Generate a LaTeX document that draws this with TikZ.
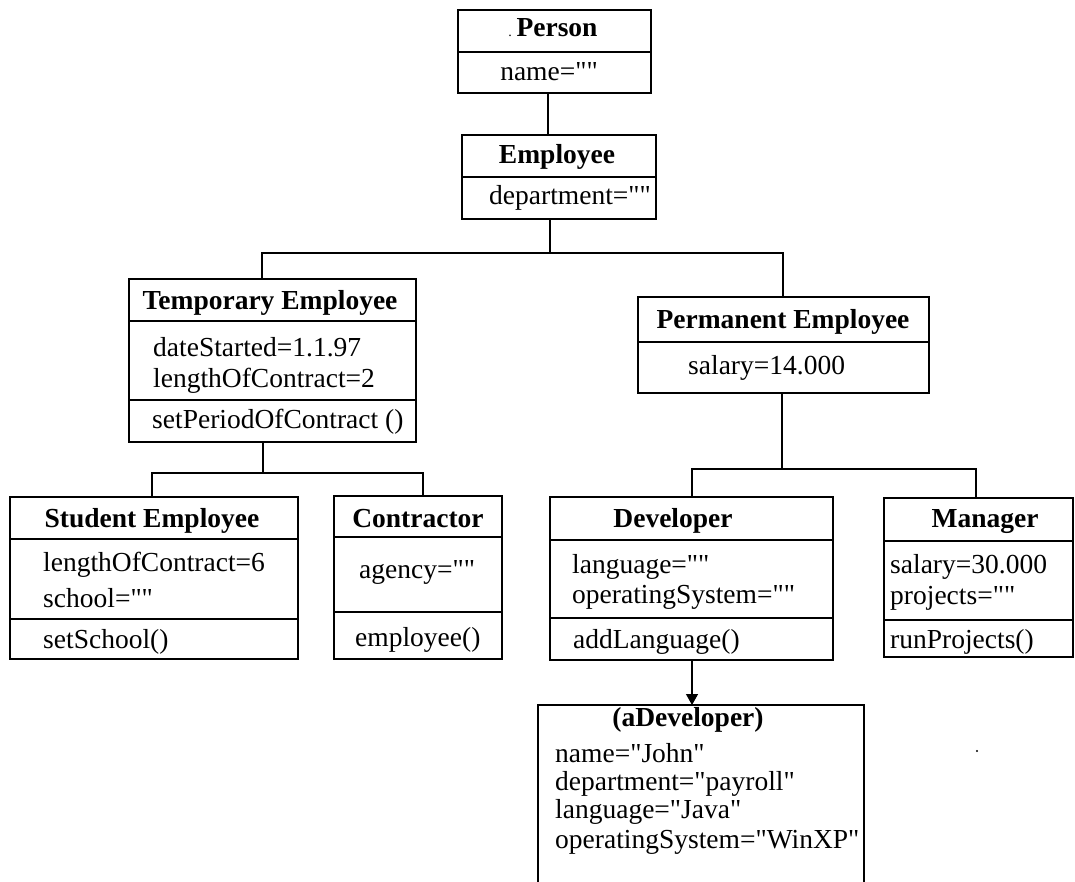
\documentclass[tikz,border=0pt]{standalone}
\usepackage{fontspec}
\setmainfont{Liberation Serif}[Ligatures=TeXOff]
\usetikzlibrary{arrows.meta}
\begin{document}
\begin{tikzpicture}[x=1pt,y=-1pt,
  box/.style={draw, line width=1.2pt, rectangle, inner sep=0pt, outer sep=0pt},
  ttl/.style={anchor=base, font=\fontsize{27.5}{30}\selectfont\bfseries, inner sep=0pt},
  txt/.style={anchor=base west, font=\fontsize{27.5}{30}\selectfont, inner sep=0pt},
  ctxt/.style={anchor=base, font=\fontsize{27.5}{30}\selectfont, inner sep=0pt},
  conn/.style={line width=1.2pt},
  divl/.style={line width=1.2pt},
  thickdiv/.style={line width=2.2pt}]
\useasboundingbox (0,0) rectangle (1075,881);
% boxes
\node[box, minimum width=193pt, minimum height=83pt] (person) at (554.5,51.5) {};
\node[box, minimum width=194pt, minimum height=84pt] (employee) at (559,177) {};
\node[box, minimum width=287pt, minimum height=163pt] (temp) at (272.5,360.5) {};
\node[box, minimum width=291pt, minimum height=96pt] (perm) at (783.5,345) {};
\node[box, minimum width=288pt, minimum height=162pt] (student) at (154,578) {};
\node[box, minimum width=168pt, minimum height=163pt] (contr) at (418,577.5) {};
\node[box, minimum width=283pt, minimum height=163pt] (dev) at (691.5,578.5) {};
\node[box, minimum width=189pt, minimum height=159pt] (mgr) at (978.5,577.5) {};
\node[box, minimum width=326pt, minimum height=190pt] (adev) at (701,800) {};
% dividers
\draw[thickdiv] (458,52) -- (651,52);
\draw[thickdiv] (462,177) -- (656,177);
\draw[divl] (129,321) -- (416,321);
\draw[divl] (129,400) -- (416,400);
\draw[divl] (638,342) -- (929,342);
\draw[divl] (10,539) -- (298,539);
\draw[divl] (10,619) -- (298,619);
\draw[divl] (334,537) -- (502,537);
\draw[divl] (334,612) -- (502,612);
\draw[divl] (550,540) -- (833,540);
\draw[divl] (550,618) -- (833,618);
\draw[divl] (884,541) -- (1073,541);
\draw[divl] (884,620) -- (1073,620);
% texts
\node[ttl] (tperson) at (553,36) {{\mdseries\fontsize{14}{14}\selectfont.}\,Person};
\node[ctxt] (aperson) at (549,80) {name=""};
\node[ttl] (temployee) at (557,163) {Employee};
\node[txt] (aemployee) at (489,204) {department=""};
\node[ttl] (ttemp) at (270,309) {Temporary Employee};
\node[txt] (atemp1) at (153,356) {dateStarted=1.1.97};
\node[txt] (atemp2) at (153,387) {lengthOfContract=2};
\node[txt] (mtemp) at (152,428) {setPeriodOfContract ()};
\node[ttl] (tperm) at (783,328) {Permanent Employee};
\node[txt] (aperm) at (688,374) {salary=14.000};
\node[ttl] (tstudent) at (152,527) {Student Employee};
\node[txt] (astudent1) at (43,571) {lengthOfContract=6};
\node[txt] (astudent2) at (43,607) {school=""};
\node[txt] (mstudent) at (43,648) {setSchool()};
\node[ttl] (tcontr) at (418,527) {Contractor};
\node[txt] (acontr) at (359,578) {agency=""};
\node[txt] (mcontr) at (355,646) {employee()};
\node[ttl] (tmgr) at (985,527) {Manager};
\node[txt] (amgr1) at (890,573) {salary=30.000};
\node[txt] (amgr2) at (890,604) {projects=""};
\node[txt] (mmgr) at (890,648) {runProjects()};
\node[ttl] (tdev) at (673,527) {Developer};
\node[txt] (adev1) at (572,573) {language=""};
\node[txt] (adev2) at (572,603) {operatingSystem=""};
\node[txt] (mdev) at (573,648) {addLanguage()};
\node[ttl] (tadev) at (688,726) {(aDeveloper)};
\node[txt] (aadev1) at (555,762) {name="John"};
\node[txt] (aadev2) at (555,790) {department="payroll"};
\node[txt] (aadev3) at (555,818) {language="Java"};
\node[txt] (aadev4) at (555,848) {operatingSystem="WinXP"};
% connectors
\draw[conn] (person.south -| 548,0) -- (employee.north -| 548,0);
\coordinate (bus1) at (550,253);
\draw[conn] (employee.south -| bus1) -- (bus1);
\draw[conn] (temp.north -| 262,0) |- (bus1) -| (perm.north -| 783,0);
\coordinate (bus2) at (263,473);
\draw[conn] (temp.south -| bus2) -- (bus2);
\draw[conn] (student.north -| 152,0) |- (bus2) -| (contr.north -| 423,0);
\coordinate (bus3) at (782,469);
\draw[conn] (perm.south -| bus3) -- (bus3);
\draw[conn] (dev.north -| 692,0) |- (bus3) -| (mgr.north -| 976,0);
\draw[conn, -{Triangle[length=11pt,width=12pt]}] (dev.south -| 692,0) -- (adev.north -| 692,0);
\fill (977,751) circle (1.1pt);
\end{tikzpicture}
\end{document}
